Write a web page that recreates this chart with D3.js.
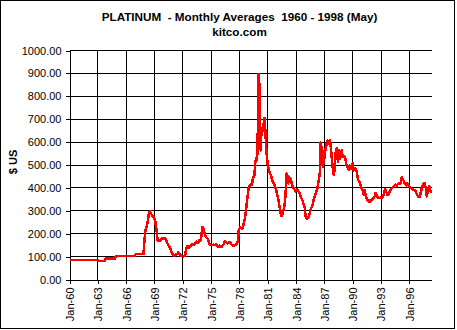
<!DOCTYPE html>
<html>
<head>
<meta charset="utf-8">
<script src="https://cdn.jsdelivr.net/npm/d3@7"></script>
<style>
  body { margin: 0; background: #fff; }
  svg { display: block; }
  text { font-family: "Liberation Sans", Arial, sans-serif; fill: #000; }
</style>
</head>
<body>
<svg id="chart" width="457" height="330"></svg>
<script>
// ---- chart data -------------------------------------------------------
const titleLines = ["PLATINUM  - Monthly Averages  1960 - 1998 (May)", "kitco.com"];
const yAxisTitle = "$ US";
const startYear = 1960;
const yTicks = [0, 100, 200, 300, 400, 500, 600, 700, 800, 900, 1000];
const xTickLabels = ["Jan-60", "Jan-63", "Jan-66", "Jan-69", "Jan-72", "Jan-75", "Jan-78",
                     "Jan-81", "Jan-84", "Jan-87", "Jan-90", "Jan-93", "Jan-96"];

// Monthly average platinum price, US$ per troy ounce, Jan 1960 - May 1998 (one row per year)
const monthlyPrices = [
  85, 85, 85, 85, 85, 85, 85, 85, 85, 85, 85, 85,            // 1960
  85, 85, 85, 85, 85, 85, 85, 85, 85, 85, 85, 85,            // 1961
  85, 85, 85, 85, 85, 85, 85, 85, 85, 85, 85, 85,            // 1962
  85, 81, 81, 81, 81, 81, 81, 81, 81, 81, 92, 92,            // 1963
  92, 92, 92, 92, 92, 92, 92, 92, 92, 92, 92, 102,           // 1964
  102, 102, 102, 102, 102, 102, 102, 102, 102, 102, 102, 102, // 1965
  102, 102, 102, 102, 102, 102, 102, 102, 102, 102, 102, 102, // 1966
  111, 111, 111, 111, 111, 111, 111, 111, 111, 111, 111, 160, // 1967
  200, 222, 229, 245, 266, 292, 298, 293, 285, 280, 276, 272, // 1968
  266, 255, 230, 205, 171, 170, 172, 170, 171, 178, 181, 180, // 1969
  179, 180, 178, 170, 160, 155, 148, 142, 135, 125, 118, 110, // 1970
  106, 105, 107, 108, 110, 112, 118, 116, 110, 106, 104, 103, // 1971
  102, 101, 102, 104, 128, 140, 146, 142, 138, 145, 148, 153, // 1972
  153, 150, 152, 155, 158, 165, 164, 160, 162, 171, 168, 175, // 1973
  205, 229, 225, 210, 196, 188, 183, 181, 178, 165, 155, 152, // 1974
  150, 150, 150, 152, 150, 150, 153, 150, 146, 142, 142, 148, // 1975
  145, 142, 146, 150, 155, 165, 168, 162, 160, 158, 160, 162, // 1976
  161, 158, 153, 150, 148, 148, 150, 152, 155, 158, 172, 215, // 1977
  222, 228, 225, 222, 225, 237, 255, 270, 295, 325, 355, 385, // 1978
  405, 411, 415, 419, 415, 440, 450, 455, 506, 528, 522, 560, // 1979
  898, 880, 700, 564, 658, 661, 651, 690, 706, 640, 575, 530, // 1980
  500, 485, 469, 460, 455, 440, 430, 426, 415, 411, 397, 385, // 1981
  368, 355, 338, 317, 295, 280, 276, 290, 305, 320, 345, 400, // 1982
  462, 455, 420, 447, 430, 440, 425, 410, 404, 397, 392, 385, // 1983
  390, 395, 388, 385, 380, 370, 360, 352, 346, 335, 324, 310, // 1984
  278, 268, 266, 270, 275, 288, 300, 310, 317, 325, 346, 355, // 1985
  368, 380, 389, 400, 419, 440, 462, 598, 500, 580, 490, 520, // 1986
  530, 560, 578, 600, 607, 600, 593, 607, 580, 540, 506, 470, // 1987
  455, 490, 549, 571, 575, 515, 540, 564, 528, 545, 564, 535, // 1988
  535, 540, 535, 520, 498, 490, 484, 480, 498, 490, 482, 484, // 1989
  508, 477, 480, 484, 480, 470, 450, 433, 428, 426, 410, 400, // 1990
  395, 385, 370, 390, 375, 360, 350, 343, 346, 338, 340, 346, // 1991
  348, 352, 355, 360, 365, 378, 370, 360, 358, 357, 355, 357, // 1992
  357, 355, 360, 370, 382, 395, 388, 378, 368, 372, 375, 385, // 1993
  392, 397, 400, 404, 407, 411, 414, 411, 409, 415, 419, 416, // 1994
  418, 422, 447, 440, 436, 428, 419, 415, 411, 419, 414, 410, // 1995
  406, 402, 398, 397, 394, 392, 390, 389, 384, 375, 368, 360, // 1996
  360, 362, 375, 389, 405, 411, 420, 422, 410, 397, 363, 380, // 1997
  392, 407, 400, 382, 388                                     // 1998 (Jan-May)
];

// ---- layout -----------------------------------------------------------
const svg = d3.select("#chart");
const plot = { left: 69.5, right: 431.5, top: 50.5, bottom: 279.5 };

// month index of each labelled tick ("Jan-63" -> 36 months after Jan 1960)
const xTickMonths = xTickLabels.map(l => (1900 + +l.slice(4) - startYear) * 12);

const x = d3.scaleLinear().domain([0, monthlyPrices.length - 1]).range([plot.left, plot.right]);
const y = d3.scaleLinear().domain([0, 1000]).range([plot.bottom, plot.top]);

// chart-area frame
svg.append("rect")
  .attr("x", 0.5).attr("y", 0.5).attr("width", 454).attr("height", 328)
  .attr("fill", "#fff").attr("stroke", "#000").attr("stroke-width", 1)
  .attr("shape-rendering", "crispEdges");

// titles
svg.append("text")
  .attr("x", 239.5).attr("y", 21)
  .attr("text-anchor", "middle")
  .attr("xml:space", "preserve").style("white-space", "pre")
  .style("font-weight", "bold").style("font-size", "11.7px")
  .text(titleLines[0]);
svg.append("text")
  .attr("x", 239.5).attr("y", 36)
  .attr("text-anchor", "middle")
  .style("font-weight", "bold").style("font-size", "11.7px")
  .text(titleLines[1]);

// gridlines
const grid = svg.append("g").attr("stroke", "#000").attr("stroke-width", 1)
  .attr("shape-rendering", "crispEdges");
grid.selectAll("line.h").data(yTicks.filter(v => v > 0)).join("line")
  .attr("class", "h")
  .attr("x1", x(0)).attr("x2", x(monthlyPrices.length - 1))
  .attr("y1", d => y(d)).attr("y2", d => y(d));
grid.selectAll("line.v").data(xTickMonths.filter(m => m > 0)).join("line")
  .attr("class", "v")
  .attr("x1", d => x(d)).attr("x2", d => x(d))
  .attr("y1", y(0)).attr("y2", y(1000));

// y axis
const yAxis = svg.append("g")
  .attr("transform", `translate(${plot.left},0)`)
  .call(d3.axisLeft(y).tickValues(yTicks).tickFormat(d3.format(".2f"))
    .tickSize(4).tickSizeOuter(0).tickPadding(4));

// x axis
const xAxis = svg.append("g")
  .attr("transform", `translate(0,${plot.bottom})`)
  .call(d3.axisBottom(x).tickValues(xTickMonths).tickFormat((d, i) => xTickLabels[i])
    .tickSize(4).tickSizeOuter(0));
xAxis.selectAll(".tick text")
  .attr("transform", "rotate(-90)")
  .attr("text-anchor", "end")
  .attr("x", -8).attr("y", 0).attr("dy", "0.35em");

[yAxis, xAxis].forEach(ax => {
  ax.attr("font-family", null).attr("font-size", null);
  ax.selectAll("path, line").attr("stroke", "#000").attr("shape-rendering", "crispEdges");
  ax.selectAll("text").style("font-size", "11px").attr("fill", "#000");
});

// y axis title
svg.append("text")
  .attr("transform", "translate(13,162) rotate(-90)")
  .attr("text-anchor", "middle").attr("dominant-baseline", "central")
  .style("font-weight", "bold").style("font-size", "11px")
  .text(yAxisTitle);

// price line
const line = d3.line()
  .x((d, i) => x(i))
  .y(d => y(d));
svg.append("path")
  .datum(monthlyPrices)
  .attr("d", line)
  .attr("fill", "none")
  .attr("stroke", "#ff0000")
  .attr("stroke-width", 2.5)
  .attr("stroke-linejoin", "round")
  .attr("shape-rendering", "crispEdges");
</script>
</body>
</html>
